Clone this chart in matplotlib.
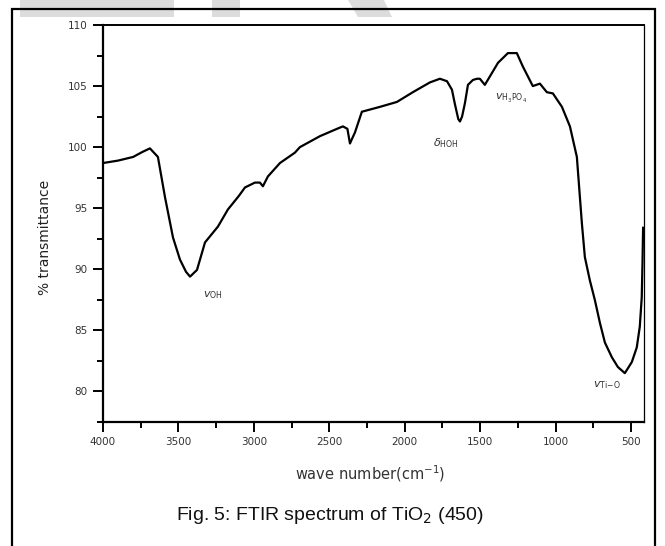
import matplotlib
matplotlib.use("Agg")
import matplotlib.pyplot as plt
from matplotlib.patches import Rectangle, Polygon
from matplotlib.ticker import MultipleLocator

# wavenumber (cm^-1) and % transmittance
wavenumber = [4000, 3900, 3800, 3740, 3689, 3636, 3589, 3536, 3490, 3450, 3423,
              3377, 3324, 3238, 3172, 3100, 3059, 2993, 2960, 2940, 2907, 2827,
              2728, 2695, 2562, 2449, 2410, 2380, 2363, 2345, 2330, 2284, 2164,
              2052, 1946, 1833, 1767, 1720, 1687, 1667, 1645, 1634, 1620, 1601,
              1581, 1548, 1521, 1502, 1469, 1435, 1382, 1316, 1257, 1217, 1151,
              1104, 1058, 1018, 958, 905, 859, 826, 806, 773, 740, 706, 673, 627,
              587, 541, 495, 462, 442, 429, 424, 420]
transmittance = [98.7, 98.9, 99.2, 99.6, 99.9, 99.2, 95.9, 92.6, 90.8, 89.8, 89.4,
                 89.95, 92.2, 93.5, 94.9, 96.0, 96.7, 97.1, 97.1, 96.8, 97.6, 98.7,
                 99.55, 100.0, 100.9, 101.5, 101.7, 101.5, 100.3, 100.8, 101.2, 102.9, 103.3,
                 103.7, 104.5, 105.3, 105.6, 105.4, 104.7, 103.5, 102.3, 102.1, 102.5, 103.6,
                 105.1, 105.5, 105.6, 105.6, 105.1, 105.8, 106.9, 107.7, 107.7, 106.6, 105.0,
                 105.2, 104.5, 104.4, 103.3, 101.7, 99.2, 93.8, 91.0, 89.1, 87.5, 85.6, 84.0, 82.8,
                 82.0, 81.5, 82.4, 83.6, 85.3, 87.7, 90.5, 93.4]

x_ticks = [4000, 3500, 3000, 2500, 2000, 1500, 1000, 500]
y_ticks = [80, 85, 90, 95, 100, 105, 110]

annotations = [
    (3337, 87.9, r'$v_{\mathrm{OH}}$'),
    (1813, 100.3, r'$\delta_{\mathrm{HOH}}$'),
    (1402, 104.0, r'$v_{\mathrm{H_3PO_4}}$'),
    (753, 80.5, r'$v_{\mathrm{Ti\!-\!O}}$'),
]

W, H = 665, 546
fig = plt.figure(figsize=(W / 100, H / 100), dpi=100)

# faint watermark pieces at the top
for pts in ([(20, 0), (174, 0), (174, 17), (20, 17)],
            [(212, 0), (240, 0), (240, 17), (212, 17)],
            [(348, 0), (384, 0), (392, 17), (358, 17)]):
    fig.patches.append(Polygon([(x / W, 1 - y / H) for x, y in pts],
                               closed=True, transform=fig.transFigure,
                               facecolor='#dcdcdc', edgecolor='none', zorder=0))

# outer frame
fig.patches.append(Rectangle((12 / W, -0.01), (655 - 12) / W, 1.01 - 9 / H,
                             transform=fig.transFigure, fill=False,
                             edgecolor='black', linewidth=1.6, zorder=1))

ax = fig.add_axes([103 / W, 1 - 422 / H, (644 - 103) / W, (422 - 25) / H])
ax.plot(wavenumber, transmittance, color='black', linewidth=1.6)
ax.set_xlim(4000, 414)
ax.set_ylim(77.5, 110)
ax.set_xticks(x_ticks)
ax.set_yticks(y_ticks)
ax.xaxis.set_minor_locator(MultipleLocator(250))
ax.yaxis.set_minor_locator(MultipleLocator(2.5))
ax.tick_params(which='major', direction='out', length=7, width=1.4,
               labelsize=7.5, labelcolor='#333333', pad=4)
ax.tick_params(which='minor', direction='out', length=4.5, width=1.4)
for side in ('left', 'bottom'):
    ax.spines[side].set_linewidth(1.6)
ax.spines['top'].set_linewidth(1.4)
ax.spines['right'].set_linewidth(0.9)

for x, y, s in annotations:
    ax.text(x, y, s, fontsize=8, color='#333333', ha='left', va='center')

fig.text(45 / W, 1 - 237 / H, '% transmittance', rotation=90, fontsize=10,
         ha='center', va='center', color='#222222')
fig.text(370 / W, 1 - 474 / H, 'wave number(cm$^{-1}$)', fontsize=10.5,
         ha='center', va='center', color='#333333')
fig.text(330 / W, 1 - 515 / H, 'Fig. 5: FTIR spectrum of TiO$_2$ (450)',
         fontsize=14, family='Liberation Sans', ha='center', va='center',
         color='#111111')

fig.savefig('out.png', dpi=100)
